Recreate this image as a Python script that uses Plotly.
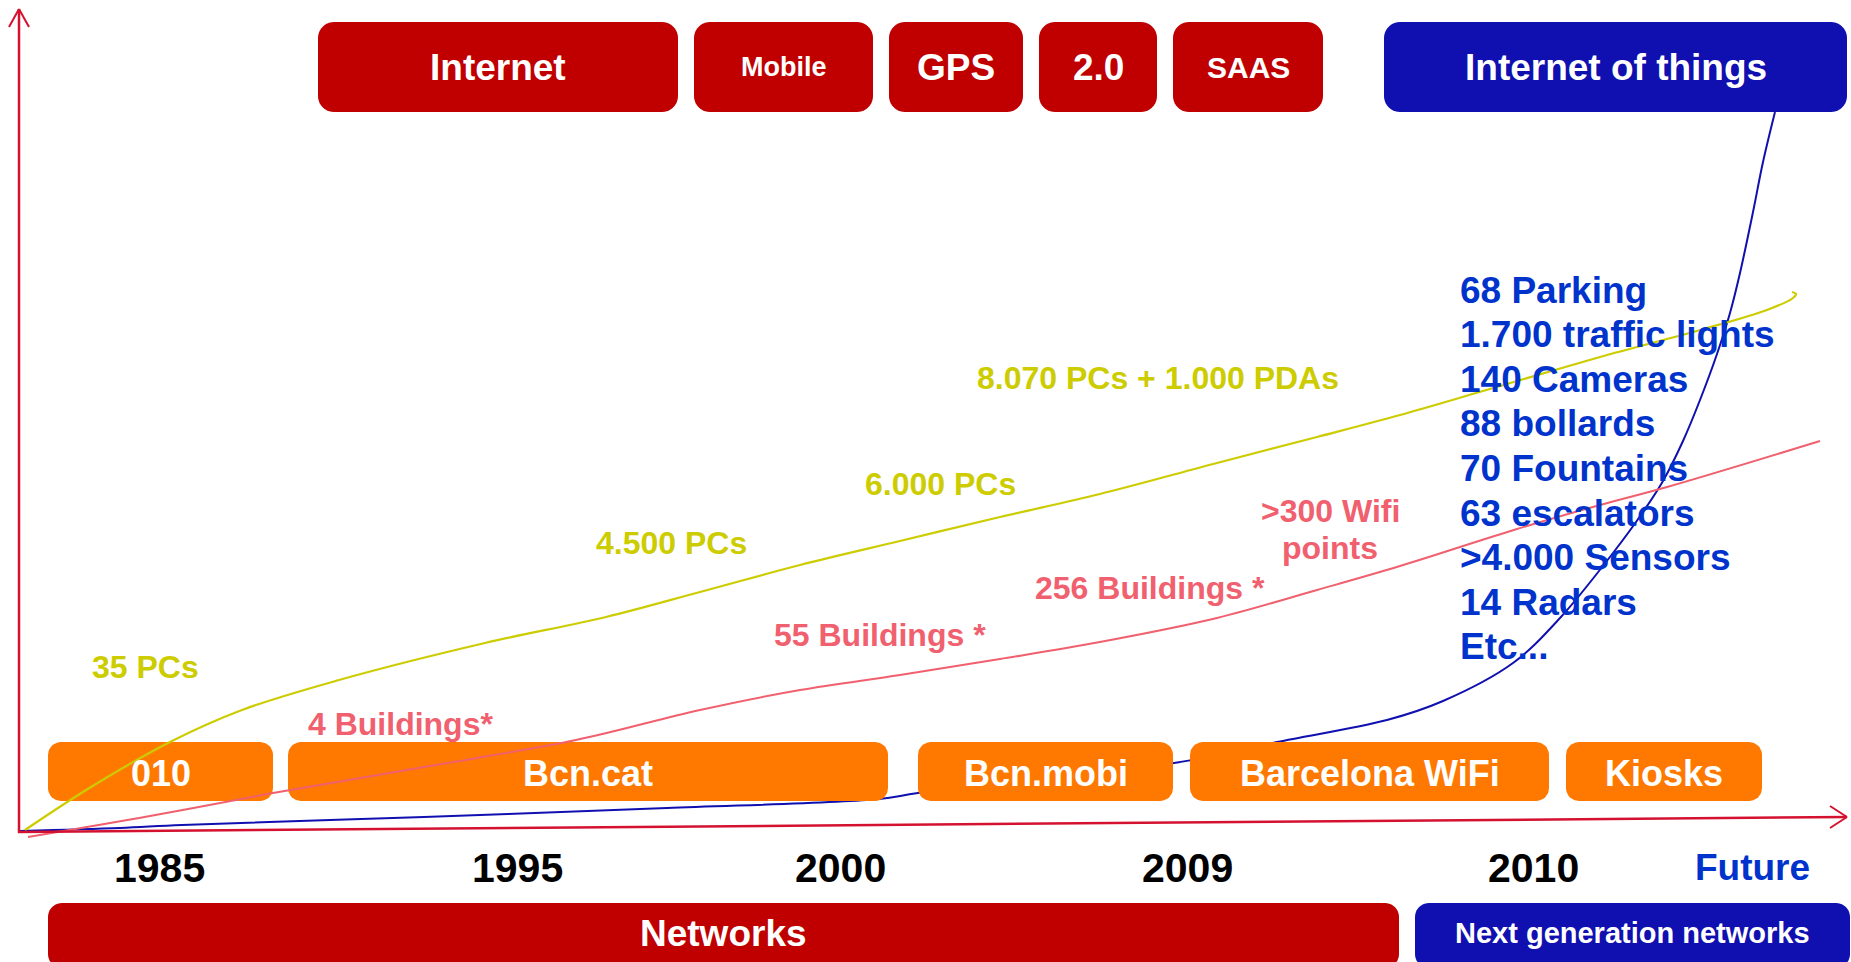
import math
import plotly.graph_objects as go

W, H = 1851, 962

# ---------------- data ----------------
# growth curves (timeline position, level; screen-like units, y grows downward)
pcs_x = [25, 91, 170, 242, 339, 485, 606, 700, 800, 900, 1000, 1100, 1217, 1317, 1400, 1483, 1600, 1700, 1767, 1793, 1796, 1792]
pcs_y = [830, 787, 742, 710, 680, 643, 617, 592, 565, 541, 517, 494, 463, 437, 415, 391, 357, 330, 310, 298, 294, 292]

bld_x = [28, 150, 273, 424, 576, 700, 800, 900, 1000, 1100, 1217, 1317, 1400, 1517, 1600, 1667, 1820]
bld_y = [837, 816, 793, 767, 740, 710, 690, 675, 659, 642, 618, 590, 566, 529, 505, 487, 441]

iot_x = [20, 120, 182, 424, 667, 879, 918, 1174, 1192, 1277, 1387, 1443, 1513, 1560, 1613, 1643, 1663, 1683, 1700, 1717, 1730, 1740, 1753, 1763, 1775]
iot_y = [831, 828, 825, 817, 808, 799, 793, 763, 760, 742, 720, 701, 663, 618, 553, 512, 481, 441, 400, 354, 313, 273, 212, 162, 112]

# technology boxes (top)
tech_labels = ["Internet", "Mobile", "GPS", "2.0", "SAAS", "Internet of things"]
tech_start = [318, 694, 889, 1039, 1173, 1384]
tech_end = [678, 873, 1023, 1157, 1323, 1847]
tech_size = [37, 27, 37, 37, 30, 37]
tech_color = ["#C00000", "#C00000", "#C00000", "#C00000", "#C00000", "#1010B0"]

# services (orange)
service_labels = ["010", "Bcn.cat", "Bcn.mobi", "Barcelona WiFi", "Kiosks"]
service_start = [48, 288, 918, 1190, 1566]
service_end = [273, 888, 1173, 1549, 1762]

# timeline
year_labels = ["1985", "1995", "2000", "2009", "2010", "Future"]
year_pos = [159, 517, 840, 1187, 1533, 1752]

# networks (bottom)
network_labels = ["Networks", "Next generation networks"]
network_start = [48, 1415]
network_end = [1399, 1850]
network_color = ["#C00000", "#1010B0"]
network_size = [37, 29]

# curve annotations
pc_labels = ["35 PCs", "4.500 PCs", "6.000 PCs", "8.070 PCs + 1.000 PDAs"]
pc_label_x = [145, 671, 940, 1158]
pc_label_y = [667, 543, 484, 378]

bld_labels = ["4 Buildings*", "55 Buildings *", "256 Buildings *", ">300 Wifi\npoints"]
bld_label_x = [400, 880, 1150, 1330]
bld_label_y = [724, 635, 588, 511]

iot_items = ["68 Parking", "1.700 traffic lights", "140 Cameras", "88 bollards",
             "70 Fountains", "63 escalators", ">4.000 Sensors", "14 Radars", "Etc..."]

# ---------------- styling ----------------
FONT = "Liberation Sans, Arial, sans-serif"
AXIS_RED = "rgb(212,18,48)"
YELLOW = "#CCCC00"
PINK = "#F0606E"
BLUE_LINE = "#1010B0"
BLUE_TEXT = "#0033CC"
ORANGE = "#FF7800"


def rounded_pts(x0, x1, y0, y1, r, n=10):
    xs, ys = [], []
    corners = [((x0 + r, y0 + r), 180, 270), ((x1 - r, y0 + r), 270, 360),
               ((x1 - r, y1 - r), 0, 90), ((x0 + r, y1 - r), 90, 180)]
    for (cx, cy), a0, a1 in corners:
        for k in range(n + 1):
            a = math.radians(a0 + (a1 - a0) * k / n)
            xs.append(cx + r * math.cos(a))
            ys.append(cy + r * math.sin(a))
    xs.append(xs[0]); ys.append(ys[0])
    return xs, ys


def rounded_path(x0, x1, y0, y1, r):
    xs, ys = rounded_pts(x0, x1, y0, y1, r)
    return "M " + " L ".join(f"{a:.1f},{b:.1f}" for a, b in zip(xs, ys)) + " Z"


fig = go.Figure()
shapes = []
ann = []


def text(x, y, s, size, color, xanchor="center"):
    ann.append(dict(x=x, y=y, text=s, showarrow=False, xanchor=xanchor, yanchor="middle",
                    font=dict(family=FONT, size=size, color=color, weight="bold")))


# axes arrows
shapes.append(dict(type="line", x0=19, y0=833, x1=19, y1=9, line=dict(color=AXIS_RED, width=2.5)))
shapes.append(dict(type="line", x0=19, y0=9, x1=9, y1=27, line=dict(color=AXIS_RED, width=2)))
shapes.append(dict(type="line", x0=19, y0=9, x1=29, y1=27, line=dict(color=AXIS_RED, width=2)))
shapes.append(dict(type="line", x0=18, y0=832, x1=1847, y1=817, line=dict(color=AXIS_RED, width=2.5)))
shapes.append(dict(type="line", x0=1847, y0=817, x1=1830, y1=806, line=dict(color=AXIS_RED, width=2)))
shapes.append(dict(type="line", x0=1847, y0=817, x1=1830, y1=828, line=dict(color=AXIS_RED, width=2)))

# top technology boxes
for lab, a, b, sz, col in zip(tech_labels, tech_start, tech_end, tech_size, tech_color):
    shapes.append(dict(type="path", path=rounded_path(a, b, 22, 112, 16), fillcolor=col,
                       line=dict(width=0), layer="below"))
    text((a + b) / 2, 67, lab, sz, "white")

# bottom network boxes
for lab, a, b, col, sz in zip(network_labels, network_start, network_end, network_color, network_size):
    shapes.append(dict(type="path", path=rounded_path(a, b, 903, 968, 14), fillcolor=col,
                       line=dict(width=0), layer="below"))
    text((a + b) / 2, 933, lab, sz, "white")

# IoT curve (below the service boxes)
fig.add_trace(go.Scatter(x=iot_x, y=iot_y, mode="lines", line=dict(color=BLUE_LINE, width=2, shape="spline", smoothing=1.0),
                         hoverinfo="skip", showlegend=False))

# service boxes
for lab, a, b in zip(service_labels, service_start, service_end):
    xs, ys = rounded_pts(a, b, 742, 801, 13)
    fig.add_trace(go.Scatter(x=xs, y=ys, mode="lines", fill="toself", fillcolor=ORANGE,
                             line=dict(width=0, color=ORANGE), hoverinfo="skip", showlegend=False))
    text((a + b) / 2, 773, lab, 36, "white")

# PCs and buildings curves
fig.add_trace(go.Scatter(x=pcs_x, y=pcs_y, mode="lines", line=dict(color=YELLOW, width=2.2, shape="spline", smoothing=1.0),
                         hoverinfo="skip", showlegend=False))
fig.add_trace(go.Scatter(x=bld_x, y=bld_y, mode="lines", line=dict(color=PINK, width=2, shape="spline", smoothing=1.0),
                         hoverinfo="skip", showlegend=False))

# years
for lab, x in zip(year_labels, year_pos):
    if lab == "Future":
        text(x, 867, lab, 37, BLUE_TEXT)
    else:
        text(x, 868, lab, 41, "black")

# curve labels
for lab, x, y in zip(pc_labels, pc_label_x, pc_label_y):
    text(x, y, lab, 32, YELLOW)
for lab, x, y in zip(bld_labels, bld_label_x, bld_label_y):
    for i, line in enumerate(lab.split("\n")):
        text(x, y + i * 37, line, 32, PINK)

# IoT list
for i, item in enumerate(iot_items):
    text(1458, 290 + i * 44.6, item, 37, BLUE_TEXT, xanchor="left")

fig.update_layout(
    width=W, height=H, margin=dict(l=0, r=0, t=0, b=0),
    paper_bgcolor="white", plot_bgcolor="white",
    xaxis=dict(range=[0, W], visible=False, fixedrange=True),
    yaxis=dict(range=[H, 0], visible=False, fixedrange=True),
    shapes=shapes, annotations=ann, showlegend=False,
)

fig.write_html("out.html", config={"displayModeBar": False},
               post_script="document.body.style.margin='0';document.body.style.overflow='hidden';")
